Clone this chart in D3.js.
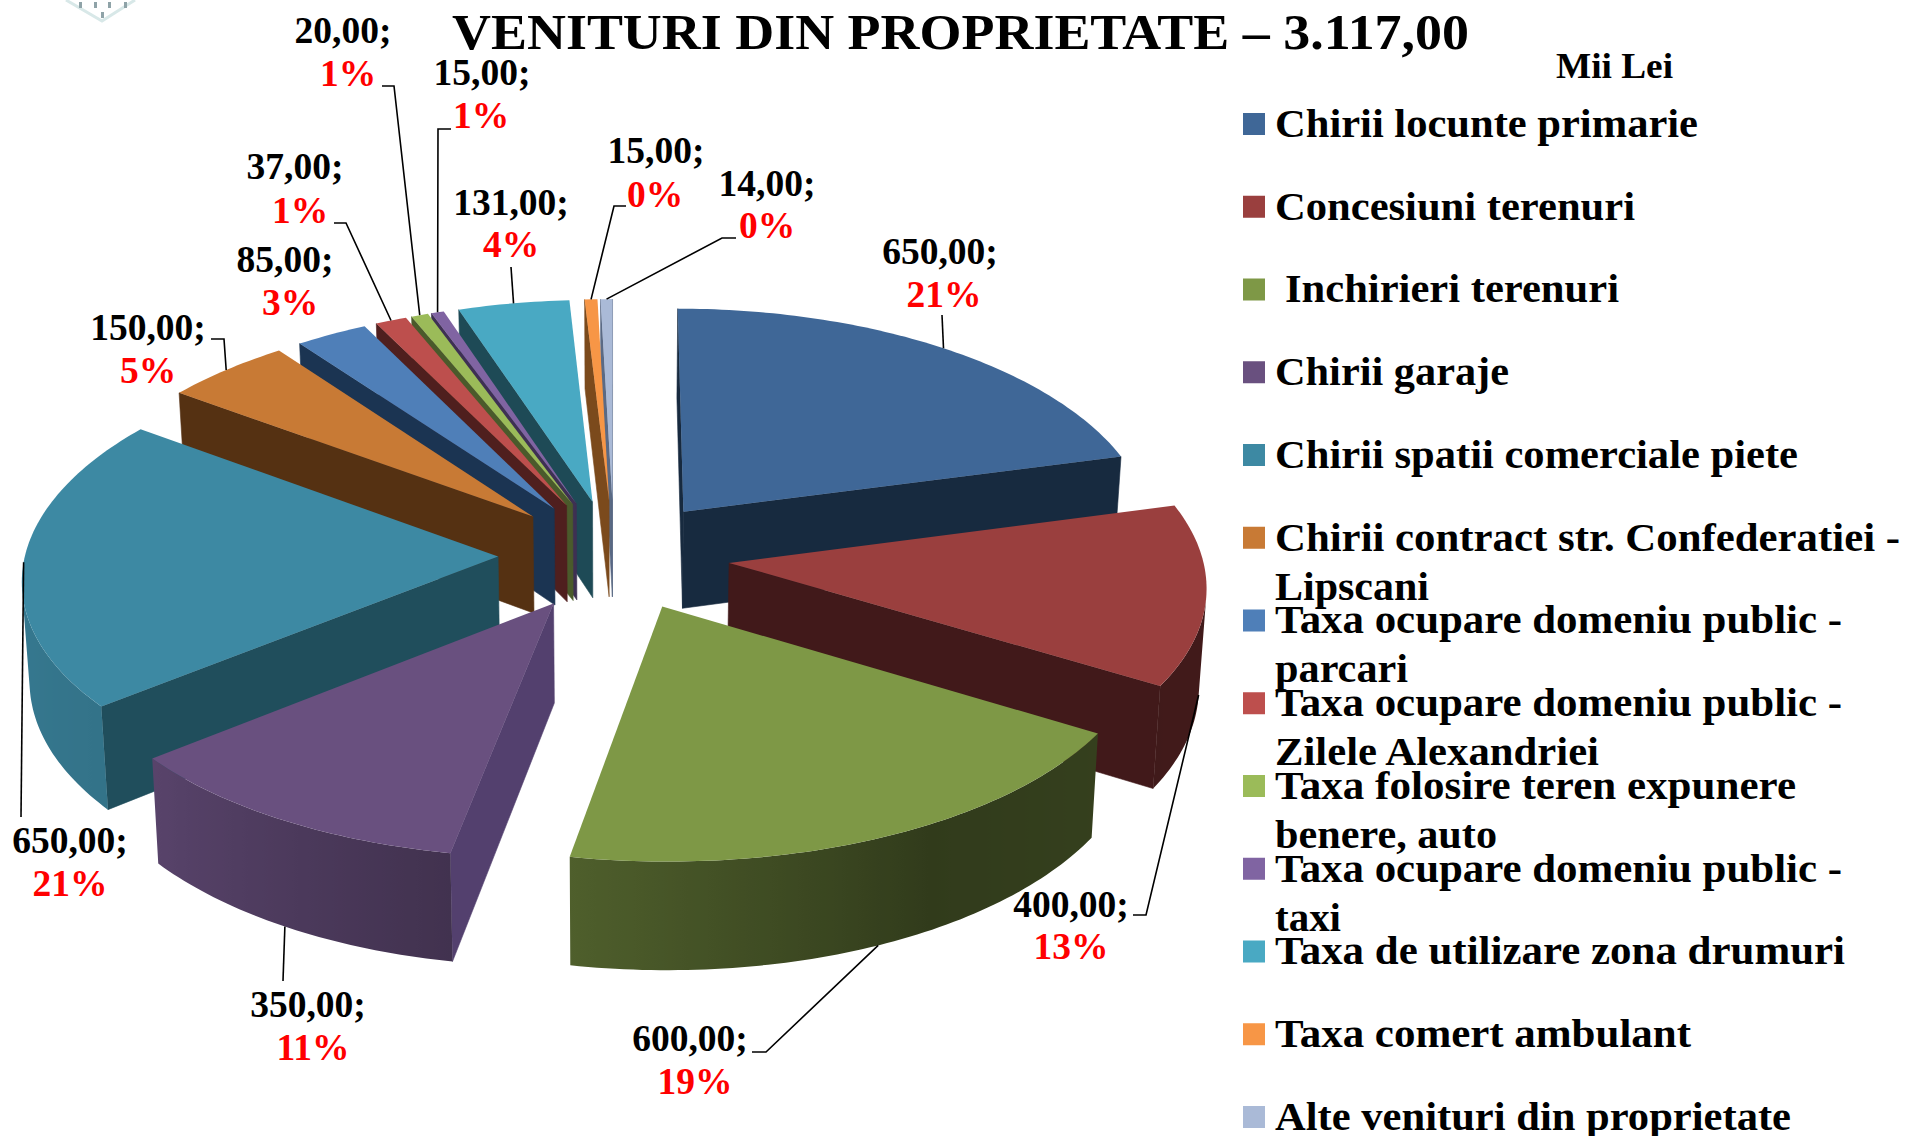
<!DOCTYPE html>
<html>
<head>
<meta charset="utf-8">
<title>Venituri din proprietate</title>
<script src="https://cdnjs.cloudflare.com/ajax/libs/d3/7.8.5/d3.min.js"></script>
<style>
  html, body { margin: 0; padding: 0; background: #fff; overflow: hidden; }
  text { font-family: "Liberation Serif", serif; font-weight: bold; }
</style>
</head>
<body>
<svg id="chart" width="1906" height="1136"></svg>
<script>
var categories = [
  ["Chirii locunte primarie"],
  ["Concesiuni terenuri"],
  ["\u00a0Inchirieri terenuri"],
  ["Chirii garaje"],
  ["Chirii spatii comerciale piete"],
  ["Chirii contract str. Confederatiei -", "Lipscani"],
  ["Taxa ocupare domeniu public -", "parcari"],
  ["Taxa ocupare domeniu public -", "Zilele Alexandriei"],
  ["Taxa folosire teren expunere", "benere, auto"],
  ["Taxa ocupare domeniu public -", "taxi"],
  ["Taxa de utilizare zona drumuri"],
  ["Taxa comert ambulant"],
  ["Alte venituri din proprietate"]
];
var values = [650, 400, 600, 350, 650, 150, 85, 37, 20, 15, 131, 15, 14];
var percents = ["21%", "13%", "19%", "11%", "21%", "5%", "3%", "1%", "1%", "1%", "4%", "0%", "0%"];

var colors = ["#3f6797", "#9a3f3e", "#7e9846", "#69507f", "#3d89a3", "#c87a35", "#4f7fb8",
              "#bd4f4d", "#9bbb59", "#8064a2", "#49a9c3", "#f79646", "#aabad7"];
// flat side walls, the curved wall gets its shade from outerShade below
var wallColors = ["#172a3f", "#41191a", "#3d4a22", "#53406e", "#204e5c", "#553112", "#1b3452",
                  "#4f1f1e", "#4a5a2b", "#3e3053", "#1e4a56", "#7b4a1c", "#5a6a85"];

// label boxes: centre x, baseline of value, centre x and baseline of percent
var labelX = [940, 1071, 690, 308, 70, 148, 285, 295, 343, 482, 511, 656, 767];
var labelY = [264, 917, 1051, 1017, 853, 340, 272, 179, 43, 85, 215, 163, 196];
var percentX = [944, 1071, 695, 313, 70, 148, 290, 300, 348, 481, 511, 655, 767];
var percentY = [307, 959, 1094, 1060, 896, 383, 315, 223, 86, 128, 257, 207, 238];
// leader lines: the fixed points before the slice, and whether they land on the lower rim
var leaderStart = [
  [[942, 315]], [[1133, 915], [1146, 915]], [[752, 1052], [766, 1052]], [[283, 981]], [[21, 817]],
  [[211, 339], [224, 339]], null, [[334, 223], [346, 223]], [[382, 86], [394, 86]],
  [[451, 129], [438, 129]], [[511, 267]], [[626, 206], [614, 206]], [[736, 238], [722, 238]]
];
var leaderLow = [0, 1, 1, 1, 0, 0, 0, 0, 0, 0, 0, 0, 0];

var svg = d3.select("#chart");
var defs = svg.append("defs");

// pie geometry
var cx = 614, cy = 555, radiusX = 473, radiusY = 226;
var explode = 0.245, perspective = 0.08, perspectiveX = 0.09, depth = 98, lowerShrink = 0.987;

// world point on the pie plane -> screen; level 0 top face, 1 bottom face
function project(x, y, level) {
  var w = 1 + perspective * y;
  var sx = radiusX * x / (1 + perspectiveX * y);
  if (level) sx = sx * lowerShrink;
  return [cx + sx, cy - radiusY * y / w + level * depth / w];
}

var pie = d3.pie().sort(null).value(function(d) { return d; });
var arcs = pie(values);

function slicePoint(d, r, angle, level) {
  var mid = (d.startAngle + d.endAngle) / 2;
  var x = explode * Math.sin(mid) + r * Math.sin(angle);
  var y = explode * Math.cos(mid) + r * Math.cos(angle);
  return project(x, y, level);
}

var lineGen = d3.line();
var outerShade = d3.scaleLinear()
  .domain([0, 120, 150, 190, 231, 306, 360])
  .range([0.42, 0.42, 0.39, 0.62, 0.84, 0.95, 0.95]);

function shadeColor(i, angle) {
  var base = d3.rgb(colors[i]);
  var f = outerShade(angle * 180 / Math.PI);
  return d3.rgb(base.r * f, base.g * f, base.b * f).formatHex();
}

// far slices first
var order = arcs.map(function(d, i) {
  var mid = (d.startAngle + d.endAngle) / 2;
  return { d: d, i: i, far: Math.cos(mid) };
}).sort(function(a, b) { return b.far - a.far; });

var sliceLayer = svg.append("g").attr("class", "slices");

order.forEach(function(o) {
  var d = o.d, i = o.i;
  var g = sliceLayer.append("g");
  var step = Math.PI / 180;
  var n = Math.max(2, Math.ceil((d.endAngle - d.startAngle) / step));
  var angles = d3.range(n + 1).map(function(k) {
    return d.startAngle + (d.endAngle - d.startAngle) * k / n;
  });

  var apex = slicePoint(d, 0, 0, 0), apexLow = slicePoint(d, 0, 0, 1);
  var top = [apex].concat(angles.map(function(a) { return slicePoint(d, 1, a, 0); }));
  var sign = d3.polygonArea(top);

  function faces(poly) {
    return d3.polygonArea(poly) * sign < 0;
  }
  function flat(poly, color) {
    if (!faces(poly)) return;
    g.append("path").attr("d", lineGen(poly) + "Z")
      .attr("fill", color).attr("stroke", color).attr("stroke-width", 0.6);
  }

  flat([apex, slicePoint(d, 1, d.startAngle, 0), slicePoint(d, 1, d.startAngle, 1), apexLow], wallColors[i]);
  flat([slicePoint(d, 1, d.endAngle, 0), apex, apexLow, slicePoint(d, 1, d.endAngle, 1)], wallColors[i]);

  // curved wall: the part that faces us, one path with a gradient across it
  var seen = angles.filter(function(a, k) {
    if (k === n) return false;
    return faces([slicePoint(d, 1, a, 0), slicePoint(d, 1, angles[k + 1], 0),
                  slicePoint(d, 1, angles[k + 1], 1), slicePoint(d, 1, a, 1)]);
  });
  if (seen.length) {
    seen.push(seen[seen.length - 1] + (d.endAngle - d.startAngle) / n);
    var upper = seen.map(function(a) { return slicePoint(d, 1, a, 0); });
    var lower = seen.map(function(a) { return slicePoint(d, 1, a, 1); }).reverse();
    var x0 = upper[0][0], x1 = upper[upper.length - 1][0];
    var grad = defs.append("linearGradient").attr("id", "outer" + i)
      .attr("gradientUnits", "userSpaceOnUse")
      .attr("x1", x0).attr("x2", x1).attr("y1", 0).attr("y2", 0);
    seen.forEach(function(a, k) {
      grad.append("stop")
        .attr("offset", (upper[k][0] - x0) / (x1 - x0))
        .attr("stop-color", shadeColor(i, a));
    });
    g.append("path").attr("d", lineGen(upper.concat(lower)) + "Z")
      .attr("fill", "url(#outer" + i + ")");
  }

  g.append("path").attr("d", lineGen(top) + "Z").attr("fill", colors[i]);
});

// leader lines
var leaderLayer = svg.append("g").attr("class", "leaders");
arcs.forEach(function(d, i) {
  if (!leaderStart[i]) return;
  var mid = (d.startAngle + d.endAngle) / 2;
  var pts = leaderStart[i].concat([slicePoint(d, 1, mid, leaderLow[i])]);
  leaderLayer.append("path").attr("d", lineGen(pts))
    .attr("fill", "none").attr("stroke", "#000").attr("stroke-width", 1.6);
});

// data labels
var labelLayer = svg.append("g").attr("class", "labels");
labelLayer.selectAll("text.val").data(values).enter().append("text")
  .attr("class", "val")
  .attr("x", function(d, i) { return labelX[i]; })
  .attr("y", function(d, i) { return labelY[i]; })
  .attr("text-anchor", "middle")
  .attr("font-size", 37.5)
  .attr("fill", "#000")
  .text(function(d) { return d.toFixed(2).replace(".", ",") + ";"; });
labelLayer.selectAll("text.pct").data(percents).enter().append("text")
  .attr("class", "pct")
  .attr("x", function(d, i) { return percentX[i]; })
  .attr("y", function(d, i) { return percentY[i]; })
  .attr("text-anchor", "middle")
  .attr("font-size", 37.5)
  .attr("fill", "#ff0000")
  .text(function(d) { return d; });

// title
svg.append("text").attr("x", 452).attr("y", 49)
  .attr("font-size", 51)
  .attr("textLength", 1017).attr("lengthAdjust", "spacingAndGlyphs")
  .text("VENITURI DIN PROPRIETATE \u2013 3.117,00");
svg.append("text").attr("x", 1556).attr("y", 78)
  .attr("font-size", 35)
  .attr("textLength", 117).attr("lengthAdjust", "spacingAndGlyphs")
  .text("Mii Lei");

// legend
var legendWidths = [
  [423], [360], [334], [234], [523], [625, 154], [567, 133], [567, 324], [521, 222], [567, 66], [570], [416], [516]
];
var legendStep = 82.75;
var legend = svg.append("g").attr("class", "legend");
categories.forEach(function(lines, i) {
  var y0 = 135.7 + i * legendStep;
  legend.append("rect")
    .attr("x", 1243).attr("y", y0 - 22.7)
    .attr("width", 22).attr("height", 22)
    .attr("fill", colors[i]);
  lines.forEach(function(t, j) {
    var nbsp = t.charAt(0) === "\u00a0";
    legend.append("text")
      .attr("x", nbsp ? 1285 : 1275)
      .attr("y", y0 + 1.2 + j * 49)
      .attr("font-size", 41)
      .attr("textLength", legendWidths[i][j]).attr("lengthAdjust", "spacingAndGlyphs")
      .text(t.replace("\u00a0", ""));
  });
});

// faint crest cut off by the top edge
var crest = svg.append("g").attr("class", "crest");
crest.append("path").attr("d", "M66,0L102,21L135,0")
  .attr("fill", "none").attr("stroke", "#d8e8e8").attr("stroke-width", 3);
crest.selectAll("rect").data([[79, 2], [94, 2], [108, 2], [124, 2], [101, 12]]).enter().append("rect")
  .attr("x", function(d) { return d[0]; }).attr("y", function(d) { return d[1]; })
  .attr("width", 3).attr("height", 6).attr("fill", "#8fa3a8");
</script>
</body>
</html>
